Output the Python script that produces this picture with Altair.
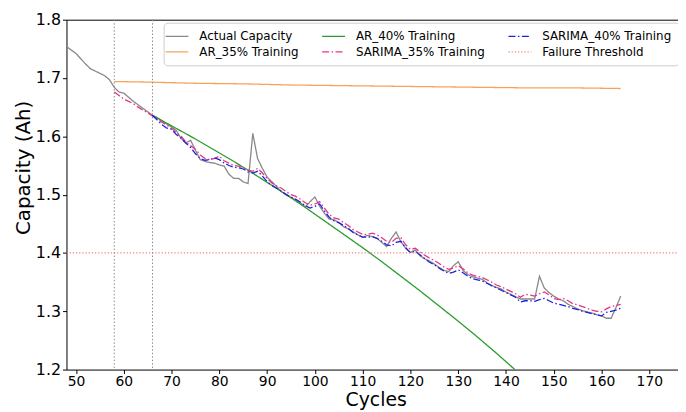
import altair as alt
import pandas as pd

# ---------------- data ----------------
actual_start = 48
actual_capacity = [
    1.754, 1.748, 1.742, 1.733, 1.724, 1.716, 1.712, 1.708, 1.704, 1.697,
    1.684, 1.676, 1.674, 1.667, 1.660, 1.654, 1.648, 1.642, 1.636, 1.632,
    1.626, 1.621, 1.616, 1.610, 1.596, 1.589, 1.593, 1.576, 1.560, 1.557,
    1.555, 1.554, 1.551, 1.549, 1.535, 1.528, 1.528, 1.522, 1.519, 1.605,
    1.562, 1.545, 1.530, 1.522, 1.514, 1.505, 1.500, 1.495, 1.491, 1.486,
    1.479, 1.488, 1.496, 1.480, 1.468, 1.458, 1.457, 1.452, 1.445, 1.441,
    1.436, 1.431, 1.427, 1.430, 1.428, 1.425, 1.418, 1.411, 1.425, 1.436,
    1.419, 1.408, 1.401, 1.405, 1.395, 1.390, 1.386, 1.381, 1.375, 1.370,
    1.368, 1.378, 1.385, 1.370, 1.363, 1.359, 1.357, 1.355, 1.349, 1.344,
    1.341, 1.338, 1.333, 1.329, 1.325, 1.321, 1.321, 1.321, 1.321, 1.360,
    1.340, 1.332, 1.326, 1.321, 1.318, 1.312, 1.308, 1.304, 1.301, 1.299,
    1.297, 1.294, 1.292, 1.288, 1.288, 1.306, 1.326,
]

sarima35_start = 58
sarima35 = [
    1.676, 1.670, 1.664, 1.660, 1.656, 1.650, 1.645, 1.640, 1.635, 1.630,
    1.624, 1.619, 1.614, 1.606, 1.600, 1.590, 1.584, 1.578, 1.568, 1.562,
    1.560, 1.562, 1.566, 1.558, 1.554, 1.550, 1.549, 1.546, 1.542, 1.540,
    1.545, 1.537, 1.528, 1.520, 1.515, 1.511, 1.505, 1.500, 1.497, 1.492,
    1.486, 1.482, 1.484, 1.488, 1.477, 1.466, 1.460, 1.458, 1.452, 1.447,
    1.440, 1.436, 1.432, 1.432, 1.434, 1.431, 1.426, 1.420, 1.418, 1.425,
    1.426, 1.414, 1.406, 1.408, 1.402, 1.396, 1.391, 1.387, 1.382, 1.376,
    1.372, 1.374, 1.378, 1.373, 1.366, 1.362, 1.360, 1.358, 1.354, 1.350,
    1.345, 1.342, 1.338, 1.334, 1.330, 1.324, 1.329, 1.328, 1.326, 1.330,
    1.333, 1.328, 1.322, 1.320, 1.322, 1.318, 1.313, 1.311, 1.308, 1.305,
    1.302, 1.300, 1.299, 1.304, 1.308, 1.310, 1.312,
]

sarima40_start = 66
sarima40 = [
    1.636, 1.628, 1.620, 1.614, 1.612, 1.603, 1.597, 1.588, 1.581, 1.570,
    1.562, 1.559, 1.560, 1.563, 1.560, 1.554, 1.550, 1.547, 1.546, 1.544,
    1.539, 1.537, 1.540, 1.532, 1.522, 1.516, 1.511, 1.506, 1.500, 1.496,
    1.492, 1.487, 1.481, 1.477, 1.480, 1.484, 1.472, 1.461, 1.455, 1.452,
    1.447, 1.442, 1.435, 1.431, 1.427, 1.427, 1.428, 1.425, 1.420, 1.414,
    1.412, 1.418, 1.420, 1.409, 1.400, 1.403, 1.397, 1.390, 1.384, 1.380,
    1.374, 1.369, 1.365, 1.367, 1.371, 1.366, 1.360, 1.356, 1.354, 1.352,
    1.348, 1.344, 1.340, 1.336, 1.332, 1.328, 1.324, 1.316, 1.318, 1.318,
    1.317, 1.320, 1.322, 1.318, 1.314, 1.312, 1.310, 1.308, 1.305, 1.303,
    1.300, 1.298, 1.296, 1.294, 1.292, 1.298, 1.300, 1.302, 1.305,
]

ar35_cycles = [58, 65, 75, 85, 95, 105, 115, 125, 135, 145, 155, 164]
ar35_values = [1.694, 1.693, 1.691, 1.690, 1.688, 1.687, 1.686, 1.685, 1.684, 1.683, 1.683, 1.682]

ar40_cycles = [66, 70, 74, 78, 82, 86, 90, 94, 98, 102, 106, 110, 114, 118, 122, 126, 130, 134, 138, 142]
ar40_values = [1.636, 1.618, 1.600, 1.581, 1.562, 1.542, 1.521, 1.500, 1.478, 1.455,
               1.432, 1.409, 1.385, 1.360, 1.335, 1.309, 1.283, 1.256, 1.228, 1.199]

failure_threshold = 1.4
x_range = [48, 176]
y_range = [1.2, 1.8]
training_ends = [58, 66]

x_ticks = [50, 60, 70, 80, 90, 100, 110, 120, 130, 140, 150, 160, 170]
y_ticks = [1.2, 1.3, 1.4, 1.5, 1.6, 1.7, 1.8]

# ---------------- build long table ----------------
rows = []


def add(name, xs, ys):
    for xv, yv in zip(xs, ys):
        rows.append({"cycle": xv, "capacity": yv, "series": name})


add("Actual Capacity", range(actual_start, actual_start + len(actual_capacity)), actual_capacity)
add("AR_35% Training", ar35_cycles, ar35_values)
add("AR_40% Training", ar40_cycles, ar40_values)
add("SARIMA_35% Training", range(sarima35_start, sarima35_start + len(sarima35)), sarima35)
add("SARIMA_40% Training", range(sarima40_start, sarima40_start + len(sarima40)), sarima40)
add("Failure Threshold", x_range, [failure_threshold, failure_threshold])
df = pd.DataFrame(rows)

order = ["Actual Capacity", "AR_35% Training", "AR_40% Training",
         "SARIMA_35% Training", "SARIMA_40% Training", "Failure Threshold"]
colors = ["#888888", "#f5a25d", "#2e9a2e", "#e6338a", "#2020e0", "#f08080"]
dashes = [[1, 0], [1, 0], [1, 0], [7, 2.5, 1.5, 2.5], [7, 2.5, 1.5, 2.5], [1.2, 2]]
widths = [1.3, 1.3, 1.3, 1.8, 1.8, 1.0]

FONT = "DejaVu Sans"
x_scale = alt.Scale(domain=x_range, nice=False, zero=False)
y_scale = alt.Scale(domain=y_range, nice=False, zero=False)

legend_kw = dict(
    title=None, orient="none", legendX=98, legendY=3, columns=3,
    symbolType="M-2,0H2", symbolSize=132, symbolStrokeWidth=1.5,
    labelFont=FONT, labelFontSize=12, labelColor="black", labelOffset=16,
    columnPadding=20, rowPadding=3, padding=7,
    fillColor="white", strokeColor="#cccccc", cornerRadius=4,
)

lines = alt.Chart(df).mark_line(clip=True).encode(
    x=alt.X("cycle:Q", scale=x_scale,
            axis=alt.Axis(values=x_ticks, title="Cycles", titleFontSize=19,
                          titleFontWeight="normal", titleY=36, titleBaseline="alphabetic",
                          titleX=312, labelFontSize=14, labelPadding=1, tickSize=4)),
    y=alt.Y("capacity:Q", scale=y_scale,
            axis=alt.Axis(values=y_ticks, format=".1f", title="Capacity (Ah)",
                          titleFontSize=20, titleFontWeight="normal", titleX=-43,
                          titleY=149, titleBaseline="middle", titleAlign="center",
                          labelFontSize=16, labelPadding=2, tickSize=4)),
    color=alt.Color("series:N", scale=alt.Scale(domain=order, range=colors),
                    legend=alt.Legend(**legend_kw)),
    strokeDash=alt.StrokeDash("series:N", scale=alt.Scale(domain=order, range=dashes),
                              legend=alt.Legend(**legend_kw)),
    strokeWidth=alt.StrokeWidth("series:N", scale=alt.Scale(domain=order, range=widths),
                                legend=None),
)

rules = alt.Chart(pd.DataFrame({"cycle": training_ends})).mark_rule(
    color="#888888", strokeDash=[1.5, 2], strokeWidth=1
).encode(
    x=alt.X("cycle:Q", scale=x_scale,
            axis=alt.Axis(orient="top", labels=False, ticks=False, title=None,
                          domain=True, domainColor="black")),
)

chart = alt.layer(lines, rules).resolve_axis(x="independent").properties(
    width=617, height=353,
    padding={"left": 59, "top": 10, "right": 0, "bottom": 41},
    autosize=alt.AutoSizeParams(type="none"),
).configure_axis(
    grid=False, domainColor="black", tickColor="black", labelColor="black",
    titleColor="black", labelFont=FONT, titleFont=FONT, domainWidth=1,
).configure_view(stroke=None)

chart.save("out.html", embed_options={"renderer": "svg", "actions": False})
